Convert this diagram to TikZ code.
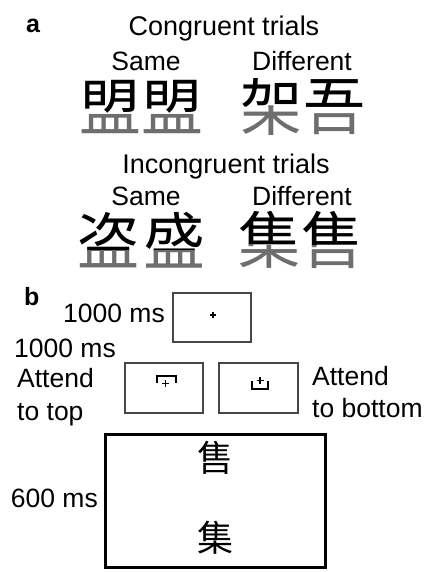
\documentclass[tikz,border=0pt]{standalone}
\usepackage{fontspec}
\usetikzlibrary{calc}
\setmainfont{Liberation Sans}
\newfontfamily\cjk{Noto Sans CJK SC}
\definecolor{lowgray}{RGB}{110,110,110}
\definecolor{boxgray}{RGB}{70,70,70}
\tikzset{
  lbl/.style={inner sep=0pt, anchor=base, font=\fontsize{26.5}{30}\selectfont},
  lblw/.style={lbl, anchor=base west},
  lble/.style={lbl, anchor=base east},
  head/.style={inner sep=0pt, anchor=base, font=\fontsize{27}{30}\selectfont},
  panel/.style={inner sep=0pt, anchor=base west, font=\fontsize{25}{30}\selectfont\bfseries},
  cjkbig/.style={inner sep=0pt, font=\fontsize{62}{62}\cjk},
  cjksmall/.style={inner sep=0pt, font=\fontsize{36}{36}\cjk},
  screen/.style={draw=boxgray, line width=1.1pt},
  bigscreen/.style={draw=black, line width=3pt},
  cue/.style={draw=black, line width=1.3pt}
}
% #1 name, #2 x, #3 y, #4 split offset, #5 character
\newcommand{\halfchar}[5]{%
  \begin{scope}
    \clip ({#2-40},{#3-40}) rectangle ({#2+40},{#3+#4});
    \node[cjkbig, text=black] (#1t) at (#2,#3) {#5};
  \end{scope}
  \begin{scope}
    \clip ({#2-40},{#3+#4}) rectangle ({#2+40},{#3+40});
    \node[cjkbig, text=lowgray] (#1b) at (#2,#3) {#5};
  \end{scope}}
\begin{document}
\begin{tikzpicture}[x=1pt,y=-1pt]
\useasboundingbox (0,0) rectangle (433,572);
% ---- panel a
\node[panel] (pa) at (26,33) {a};
\node[head] (cong) at (224,36) {Congruent trials};
\node[lbl] (same1) at (146,71) {Same};
\node[lbl] (diff1) at (302,71) {Different};
\halfchar{m1}{110}{107}{6}{盟}
\halfchar{m2}{172}{107}{6}{盟}
\halfchar{j1}{271}{107}{0}{架}
\halfchar{w1}{334}{107}{2}{吾}
\node[head] (incong) at (226,173) {Incongruent trials};
\node[lbl] (same2) at (146,205) {Same};
\node[lbl] (diff2) at (302,205) {Different};
\halfchar{d1}{108}{240}{10}{盗}
\halfchar{s1}{174}{240}{10}{盛}
\halfchar{ji}{269}{240}{4}{集}
\halfchar{sh}{332}{240}{5}{售}
% ---- panel b
\node[panel] (pb) at (24,305) {b};
\node[lble] (t1) at (165,322) {1000 ms};
\draw[screen] (173,293) rectangle (251,342);
\coordinate (fix) at (213,315);
\draw[line width=1.1pt] ($(fix)+(-3,0)$) -- ($(fix)+(3,0)$) ($(fix)+(0,-3)$) -- ($(fix)+(0,3)$);
\node[lblw] (t2) at (14,357) {1000 ms};
\node[lblw] (att1) at (17,387) {Attend};
\node[lblw] (top1) at (17,420) {to top};
\draw[screen] (125,363) rectangle (203,413);
\draw[screen] (219,363) rectangle (298,413);
% cue top
\draw[cue] (157,383) -- (157,376) -- (176,376) -- (176,383);
\draw[line width=1.3pt] (162,383.5) -- (169,383.5) (165.5,380) -- (165.5,387);
% cue bottom
\draw[cue] (252,381) -- (252,389) -- (268,389) -- (268,381);
\draw[line width=1.3pt] (256.5,380.5) -- (263.5,380.5) (260,377) -- (260,384);
\node[lblw] (att2) at (312,385) {Attend};
\node[lblw] (bot2) at (312,417) {to bottom};
% target screen
\draw[bigscreen] (105,434) rectangle (325,567);
\node[cjksmall] (tgt1) at (215,458) {售};
\node[cjksmall] (tgt2) at (215,538) {集};
\node[lble] (t3) at (98,507) {600 ms};
\end{tikzpicture}
\end{document}
